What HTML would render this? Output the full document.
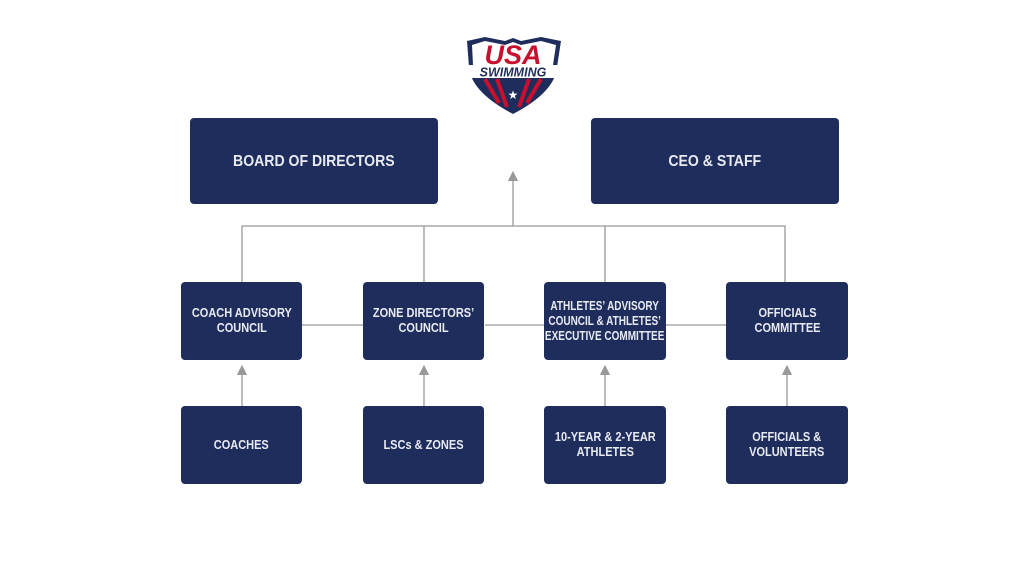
<!DOCTYPE html>
<html><head><style>
body{margin:0;width:1024px;height:576px;background:#fff;position:relative;overflow:hidden;font-family:"Liberation Sans Narrow","Liberation Sans",sans-serif}
.b{position:absolute;background:#1f2d5c;border-radius:4px;color:#e8eaf2;display:flex;align-items:center;justify-content:center;text-align:center}
.b span{display:inline-block;transform:scaleX(.88);font-weight:bold;font-size:12.5px;line-height:15px;white-space:nowrap}
.big span{font-size:16px}
</style></head><body>
<svg width="1024" height="576" style="position:absolute;left:0;top:0">
<defs><marker id="a" markerWidth="8" markerHeight="8" refX="4" refY="4" orient="auto"><path d="M0,0L8,4L0,8z" fill="#999"/></marker></defs>
<g stroke="#999" stroke-width="1.3" fill="none">
<path d="M242,282V226H785V282M424,226V282M605,226V282"/>
<path d="M513,226V176" marker-end="url(#a)"/>
<path d="M302,325H363M485,325H544M666,325H726"/>
<path d="M242,406V370" marker-end="url(#a)"/>
<path d="M424,406V370" marker-end="url(#a)"/>
<path d="M605,406V370" marker-end="url(#a)"/>
<path d="M787,406V370" marker-end="url(#a)"/>
</g>
<g transform="translate(465,37)">
<path d="M2,4L20,0L40,4L48,1L56,4L76,0L96,4L92,30Q90,55 48,77Q6,55 4,30Z" fill="#1f2d5c"/>
<path d="M7,8L20,4L40,8L48,5L56,8L76,4L91,8L88,28L8,28Z" fill="#fff"/>
<path d="M10,42L86,42Q80,58 48,72Q16,58 10,42Z" fill="#1f2d5c"/>
<path d="M20,42L34,66M32,42L42,70M64,42L54,70M76,42L62,66" stroke="#c8102e" stroke-width="4"/>
<text x="48" y="27" text-anchor="middle" font-family="Liberation Sans" font-weight="bold" font-style="italic" font-size="27" fill="#c8102e">USA</text>
<rect x="2" y="28" width="94" height="13" fill="#fff"/>
<text x="48" y="39.5" text-anchor="middle" font-family="Liberation Sans" font-weight="bold" font-style="italic" font-size="12.5" fill="#1f2d5c">SWIMMING</text>
<text x="48" y="62" text-anchor="middle" font-size="12" fill="#fff">★</text>
</g>
</svg>
<div class="b big" style="left:190px;top:118px;width:248px;height:86px"><span>BOARD OF DIRECTORS</span></div>
<div class="b big" style="left:591px;top:118px;width:248px;height:86px"><span>CEO &amp; STAFF</span></div>
<div class="b" style="left:181px;top:282px;width:121px;height:78px"><span>COACH ADVISORY<br>COUNCIL</span></div>
<div class="b" style="left:363px;top:282px;width:121px;height:78px"><span>ZONE DIRECTORS’<br>COUNCIL</span></div>
<div class="b" style="left:544px;top:282px;width:122px;height:78px"><span style="transform:scaleX(.8)">ATHLETES’ ADVISORY<br>COUNCIL &amp; ATHLETES’<br>EXECUTIVE COMMITTEE</span></div>
<div class="b" style="left:726px;top:282px;width:122px;height:78px"><span>OFFICIALS<br>COMMITTEE</span></div>
<div class="b" style="left:181px;top:406px;width:121px;height:78px"><span>COACHES</span></div>
<div class="b" style="left:363px;top:406px;width:121px;height:78px"><span>LSCs &amp; ZONES</span></div>
<div class="b" style="left:544px;top:406px;width:122px;height:78px"><span>10-YEAR &amp; 2-YEAR<br>ATHLETES</span></div>
<div class="b" style="left:726px;top:406px;width:122px;height:78px"><span>OFFICIALS &amp;<br>VOLUNTEERS</span></div>
</body></html>
